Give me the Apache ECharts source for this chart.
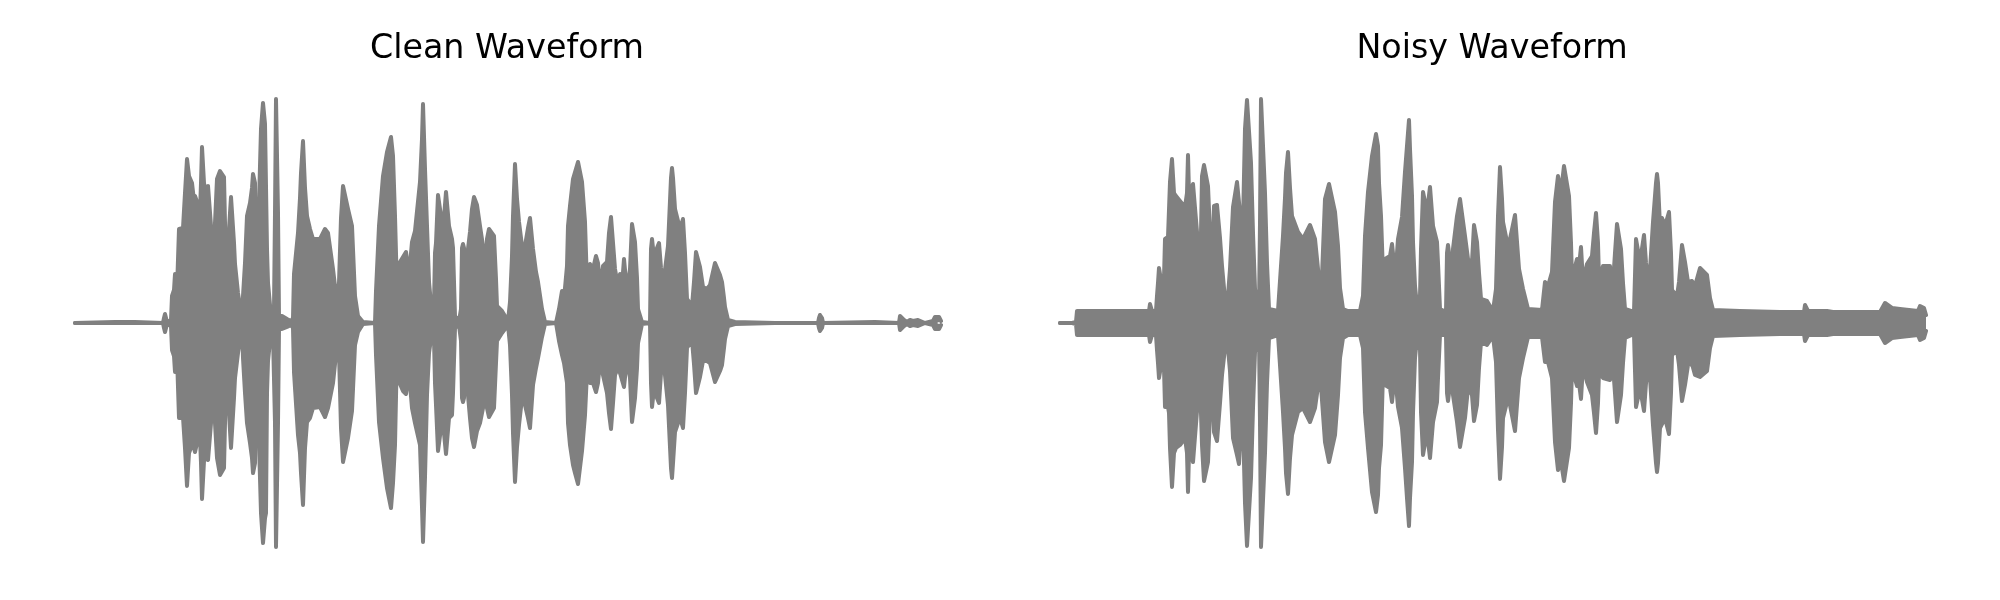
<!DOCTYPE html>
<html><head><meta charset="utf-8">
<style>html,body{margin:0;padding:0;background:#fff}#c{width:2000px;height:600px}</style>
<script src="https://cdn.jsdelivr.net/npm/echarts@6/dist/echarts.min.js"></script>
</head><body><div id="c"></div>
<script>
const panelTitles = ["Clean Waveform", "Noisy Waveform"];
// [time, upper envelope, lower envelope magnitude]
const cleanEnvelope = [[0,0,0],[40,1,0],[60,1,0],[88,0,0],[89,5,5],[90,9,9],[91,9,9],[92,1,1],[96,3,3],[97,27,27],[99,33,33],[100,49,49],[101,49,49],[102,33,33],[103,33,33],[104,94,95],[108,95,94],[110,130,125],[112,164,163],[114,147,130],[117,140,122],[119,122,125],[120,127,129],[122,121,120],[125,111,115],[126,140,140],[127,176,176],[128,176,176],[129,140,138],[130,134,135],[133,137,137],[136,97,100],[139,59,60],[140,100,100],[142,144,135],[145,152,152],[149,146,145],[150,100,100],[151,37,38],[153,70,70],[154,94,90],[156,126,125],[157,126,125],[159,80,75],[160,59,55],[163,30,30],[167,4,4],[168,27,35],[170,60,70],[172,107,100],[175,120,120],[177,135,135],[178,149,150],[180,140,140],[181,37,37],[183,74,88],[184,120,120],[186,194,190],[188,220,220],[190,199,195],[191,197,190],[192,74,70],[193,40,38],[195,18,18],[198,11,12],[199,14,14],[200,110,100],[201,224,224],[202,224,224],[203,110,100],[204,6,6],[207,7,6],[212,4,4],[216,2,2],[218,5,5],[219,49,49],[223,90,112],[225,125,130],[226,150,150],[228,182,182],[230,135,125],[232,107,99],[235,94,95],[238,84,85],[245,84,84],[250,94,94],[253,90,85],[258,54,60],[262,20,22],[264,40,30],[266,105,105],[268,137,139],[273,114,115],[277,97,88],[280,27,22],[283,7,9],[288,1,1],[300,0,0],[301,32,32],[304,97,99],[308,147,135],[312,171,165],[316,186,185],[318,167,160],[320,107,122],[321.5,51,50],[325,61,61],[328,66,68],[331,71,71],[333,71,71],[334,47,49],[337,81,85],[340,92,100],[345,141,122],[347,184,184],[348,219,219],[350,154,154],[352,97,72],[354,41,30],[356,19,16],[359,18,16],[360,70,60],[361,80,82],[363,128,128],[366,107,105],[369,105,110],[371,131,131],[374,97,95],[377,84,92],[378,75,70],[380,7,5],[384,2,2],[386,14,18],[387,75,75],[388,79,79],[389,75,75],[391,14,12],[393,74,72],[395,91,95],[397,114,115],[399,126,124],[402,118,108],[405,97,100],[408,77,85],[411,64,68],[412,84,85],[414,94,94],[419,87,85],[421,44,40],[422,17,18],[427,12,10],[433,2,2],[435,21,22],[437,67,72],[438,107,110],[440,159,159],[442,124,124],[444,101,102],[447,77,75],[450,77,82],[453,95,95],[455,105,105],[458,74,62],[461,51,45],[463,41,35],[467,14,14],[470,1,1],[481,0,0],[484,14,18],[487,32,32],[489,24,40],[492,57,60],[493,97,100],[495,117,122],[498,144,142],[500,144,150],[503,161,161],[507,141,128],[510,101,92],[511.5,54,60],[512,37,55],[515,59,60],[518,54,60],[521,67,69],[523,60,60],[525,34,38],[528,57,52],[532,61,70],[534,90,90],[536,106,106],[538,80,80],[540,54,52],[543,37,45],[545,49,50],[547,37,52],[549,64,64],[552,31,35],[555,54,55],[557,99,99],[560,81,75],[562,45,45],[563,14,20],[567,1,1],[575,0,0],[576,74,60],[577,84,84],[578,75,75],[580,54,55],[582,75,75],[584,80,80],[586,55,50],[588,37,32],[593,77,82],[596,145,145],[597,155,155],[598,145,140],[600,114,109],[605,94,94],[608,104,105],[610,70,70],[612,24,25],[617,17,17],[619,41,41],[621,71,70],[625,56,54],[628,36,38],[632,34,38],[635,38,40],[640,60,59],[642,60,59],[645,48,48],[647,41,42],[649,25,25],[650,16,16],[653,3,3],[655,1,1],[660,1,1],[700,0,0],[743,0,0],[744,5,5],[745,8,8],[746,8,8],[747,5,5],[748,0,0],[800,1,0],[824,0,0],[825,7,7],[826,9,9],[827,8,8],[829,3,3],[832,1,1],[835,3,3],[838,2,2],[843,3,3],[850,0,0],[858,2,2],[860,6,6],[862,7,7],[864,6,6],[866,2,2]];
const noisyEnvelope = [[0,0,0],[12,0,0],[16,1,1],[17,12,12],[50,12,12],[89,12,12],[90,19,19],[91,19,19],[92,12,12],[96,12,12],[97,27,27],[98,40,40],[99,55,55],[100,55,55],[102,37,37],[104,45,45],[105,84,84],[108,86,84],[109,86,90],[110,141,125],[112,164,164],[114,130,130],[116,127,125],[120,122,122],[125,116,115],[127,130,130],[128,168,169],[129,130,130],[130,127,125],[133,139,139],[137,91,88],[139,59,59],[141,90,90],[142,147,122],[144,158,158],[148,137,139],[150,90,90],[152,44,45],[154,117,109],[157,118,118],[160,85,80],[162,57,52],[165,24,25],[167,14,14],[170,54,48],[173,116,115],[177,141,132],[179,142,141],[181,100,100],[182,36,35],[183,100,100],[185,194,180],[187,223,223],[189,223,223],[191,160,155],[193,90,85],[195,34,29],[198,17,19],[199,14,14],[200,100,100],[201,224,224],[203,224,224],[205,130,130],[207,60,60],[209,14,15],[218,12,12],[220,42,42],[223,87,89],[225,125,125],[226,150,150],[228,171,171],[230,135,135],[232,107,112],[238,91,89],[243,84,85],[250,98,99],[255,84,85],[260,34,49],[262,47,49],[265,124,119],[269,139,139],[275,111,112],[278,77,72],[280,35,35],[283,14,15],[288,12,12],[300,12,12],[303,27,25],[305,87,89],[308,131,125],[312,167,169],[316,189,189],[318,177,172],[319,140,145],[321,107,122],[323,49,49],[325,64,62],[330,67,65],[332,79,79],[334,60,60],[335,41,49],[338,84,84],[342,106,105],[345,151,145],[347,177,175],[349,203,203],[350,174,175],[352,127,139],[353,81,90],[355,37,35],[356,27,25],[360,26,25],[361,74,89],[363,131,132],[367,111,109],[370,136,135],[373,97,99],[377,81,79],[378,60,55],[380,14,12],[386,11,12],[387,70,70],[388,78,78],[389,70,70],[391,14,12],[393,74,72],[397,107,99],[400,124,124],[405,87,95],[408,64,65],[412,61,72],[414,98,98],[417,81,82],[419,50,45],[421,24,19],[427,22,22],[433,12,13],[436,34,39],[438,107,107],[440,156,156],[442,124,124],[443,101,95],[447,81,79],[450,84,82],[455,108,108],[459,54,55],[463,34,35],[468,14,14],[482,13,14],[485,41,39],[488,37,39],[492,51,55],[495,121,119],[498,147,147],[501,131,139],[504,157,158],[509,127,125],[511,80,80],[512,44,45],[517,64,63],[518,47,52],[521,76,76],[523,41,42],[527,59,59],[532,67,72],[534,90,90],[536,110,110],[538,80,80],[539,44,49],[543,57,55],[550,57,57],[552,24,29],[555,70,70],[557,99,99],[561,74,72],[563,40,40],[565,14,15],[574,11,11],[575,11,11],[576,84,84],[577,84,84],[580,61,65],[584,88,88],[586,60,60],[589,37,39],[593,101,102],[596,140,140],[597,149,149],[598,140,140],[600,97,105],[602,105,105],[605,97,95],[609,111,111],[611,70,70],[612,33,32],[617,27,27],[619,41,42],[622,78,78],[625,61,62],[628,41,42],[632,42,41],[635,37,52],[640,55,54],[647,48,48],[650,25,25],[653,13,13],[680,12,12],[720,11,11],[744,11,11],[745,18,18],[746,18,18],[748,12,12],[767,12,12],[773,11,11],[820,11,11],[825,20,20],[826,20,20],[832,15,15],[840,14,14],[858,12,12],[860,17,17],[862,17,17],[864,15,15],[866,8,8]];

const gray = "#808080";
const lefts = [75, 1060];
function wave(env, idx, sign) {
  return {
    type: "line", xAxisIndex: idx, yAxisIndex: idx, symbol: "none", clip: false,
    silent: true, animation: false,
    lineStyle: { color: gray, width: 4, cap: "round", join: "round" },
    areaStyle: { color: gray, opacity: 1, origin: 0 },
    data: env.map(r => [r[0], sign > 0 ? r[1] : -r[2]])
  };
}
const chart = echarts.init(document.getElementById("c"), null, { renderer: "canvas" });
chart.setOption({
  animation: false,
  backgroundColor: "#fff",
  title: panelTitles.map((t, i) => ({
    text: t, left: lefts[i] + 427, top: 28, textAlign: "center",
    textStyle: { fontFamily: "DejaVu Sans", fontSize: 33.3, fontWeight: "normal", color: "#000" }
  })),
  grid: lefts.map(l => ({ left: l, top: 88, width: 866, height: 470 })),
  xAxis: lefts.map((l, i) => ({ type: "value", gridIndex: i, min: 0, max: 866, show: false })),
  yAxis: lefts.map((l, i) => ({ type: "value", gridIndex: i, min: -235, max: 235, show: false })),
  series: [
    wave(cleanEnvelope, 0, 1), wave(cleanEnvelope, 0, -1),
    wave(noisyEnvelope, 1, 1), wave(noisyEnvelope, 1, -1)
  ]
});
</script></body></html>
